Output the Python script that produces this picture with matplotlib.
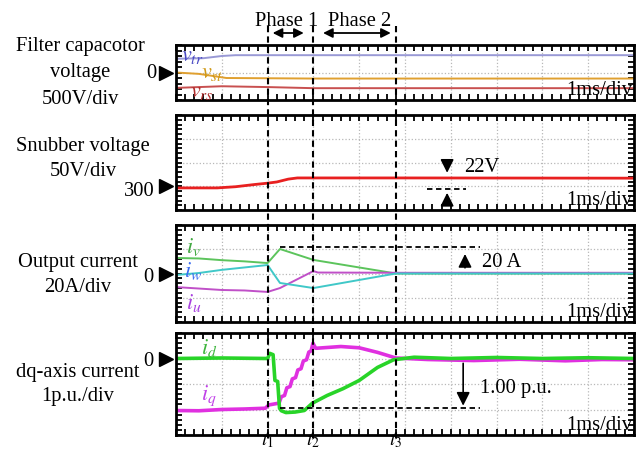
import numpy as np
import matplotlib.pyplot as plt
from matplotlib.ticker import MultipleLocator
from matplotlib.transforms import blended_transform_factory
from matplotlib.lines import Line2D

plt.rcParams["font.family"] = ["Liberation Serif", "DejaVu Serif"]
plt.rcParams["mathtext.fontset"] = "stix"

W, H = 641, 450
FS = 14.8
MFS = 16

# event times (ms)
t_marks = [2.0, 3.0, 4.8]
t_names = ["$t_1$", "$t_2$", "$t_3$"]

# --- panel 1: filter capacitor voltage (div) ---
vtr_t = [0, 0.6, 1.0, 1.3, 10]
vtr_v = [0.5, 0.52, 0.6, 0.63, 0.63]
vst_t = [0, 0.5, 1.1, 3.0, 10]
vst_v = [0.0, -0.05, -0.2, -0.22, -0.22]
vrs_t = [0, 0.5, 1.0, 2.0, 3.0, 10]
vrs_v = [-0.56, -0.53, -0.5, -0.53, -0.57, -0.57]

# --- panel 2: snubber voltage (div, 300 V at 1 div) ---
vsn_t = [0, 0.9, 1.3, 1.7, 2.0, 2.2, 2.45, 2.65, 5.0, 10]
vsn_v = [0.93, 0.93, 0.98, 1.07, 1.13, 1.18, 1.3, 1.35, 1.35, 1.34]

# --- panel 3: output currents (div) ---
iv_t = [0, 0.5, 1.0, 1.5, 2.0, 2.27, 3.0, 4.8, 10]
iv_v = [0.64, 0.62, 0.55, 0.5, 0.43, 1.01, 0.56, 0.0, 0.0]
iw_t = [0, 0.5, 1.0, 1.5, 2.0, 2.27, 3.0, 4.8, 10]
iw_v = [-0.06, 0.02, 0.15, 0.25, 0.35, -0.39, -0.6, 0.0, 0.0]
iu_t = [0, 0.5, 1.0, 1.5, 2.0, 2.27, 3.0, 3.1, 4.8, 10]
iu_v = [-0.56, -0.62, -0.68, -0.7, -0.76, -0.6, 0.1, 0.04, 0.03, 0.03]

# --- panel 4: dq-axis currents (div) ---
id_t = [0, 1.0, 2.0, 2.05, 2.12, 2.16, 2.22, 2.26, 2.3, 2.4, 2.6, 2.8, 2.98,
        3.3, 3.65, 4.0, 4.4, 4.75, 5.2, 6.0, 7.0, 8.0, 9.0, 10]
id_v = [0, 0.02, 0, 0.2, 0.15, -0.86, -0.9, -1.95, -2.05, -2.12, -2.1, -2.04,
        -1.75, -1.45, -1.18, -0.86, -0.35, -0.05, 0.05, 0.0, 0.04, 0.0, 0.03, 0.0]
iq_t = [0, 0.5, 1.0, 1.5, 1.95, 2.03, 2.25, 2.3, 2.37, 2.42, 2.49, 2.54, 2.61,
        2.66, 2.73, 2.78, 2.85, 2.9, 2.95, 2.99, 3.05, 3.6, 4.0, 4.4, 4.8,
        5.5, 6.5, 7.5, 8.5, 9.3, 10]
iq_v = [-2.04, -2.05, -2.0, -1.98, -1.95, -1.82, -1.75, -1.5, -1.45, -1.15,
        -1.1, -0.8, -0.75, -0.45, -0.4, -0.1, -0.05, 0.25, 0.3, 0.6, 0.4,
        0.47, 0.42, 0.24, 0.02, -0.04, -0.08, -0.03, -0.09, -0.04, -0.05]


def fx(x):
    return x / W


def fy(y):
    return 1 - y / H


fig = plt.figure(figsize=(W / 100, H / 100), dpi=100)


def make_ax(ytop, ybot, ylo, yhi):
    ax = fig.add_axes([fx(176), fy(ybot), fx(634) - fx(176), (ybot - ytop) / H])
    ax.set_xlim(0, 10)
    ax.set_ylim(ylo, yhi)
    ax.xaxis.set_major_locator(MultipleLocator(1))
    ax.xaxis.set_minor_locator(MultipleLocator(0.2))
    ax.yaxis.set_major_locator(MultipleLocator(1))
    ax.yaxis.set_minor_locator(MultipleLocator(0.2))
    ax.tick_params(which="both", direction="in", top=True, right=True,
                   labelleft=False, labelbottom=False, length=4.5, width=1.3)
    ax.grid(True, which="major", linestyle=":", color="#b8b8b8", lw=0.9)
    for s in ax.spines.values():
        s.set_linewidth(2)
    ax.text(0.997, 0.0, "1ms/div", transform=ax.transAxes, ha="right",
            va="bottom", fontsize=FS)
    return ax


ax1 = make_ax(45, 100, -1, 1)
ax2 = make_ax(115, 210, 0, 4)
ax3 = make_ax(225, 322, -2, 2)
ax4 = make_ax(333, 435, -3, 1)

# panel 1
ax1.plot(vtr_t, vtr_v, color="#9a9ad6", lw=1.4)
ax1.plot(vst_t, vst_v, color="#e0a030", lw=1.4)
ax1.plot(vrs_t, vrs_v, color="#c85050", lw=1.4)
ax1.text(0.1, 0.6, "$v_{tr}$", color="#4a4ac4", fontsize=MFS, va="center")
ax1.text(0.55, -0.05, "$v_{st}$", color="#d09a18", fontsize=MFS, va="center")
ax1.text(0.3, -0.72, "$v_{rs}$", color="#b02c2c", fontsize=MFS, va="center")

# panel 2
ax2.plot(vsn_t, vsn_v, color="#e82020", lw=2.0)
arr = dict(arrowstyle="-|>", color="k", lw=1.2, mutation_scale=20)
ax2.annotate("", xy=(5.92, 1.45), xytext=(5.92, 2.0), arrowprops=arr)
ax2.annotate("", xy=(5.92, 0.84), xytext=(5.92, 0.22), arrowprops=arr)
ax2.plot([5.48, 6.33], [0.88, 0.88], color="k", lw=1.3, ls=(0, (3, 2)))
ax2.text(6.3, 1.77, "22V", fontsize=FS, va="center")

# panel 3
ax3.plot(iv_t, iv_v, color="#5cc45c", lw=1.4)
ax3.plot(iu_t, iu_v, color="#c050c8", lw=1.4)
ax3.plot(iw_t, iw_v, color="#40c8c8", lw=1.4)
ax3.text(0.22, 1.08, "$i_v$", color="#40a840", fontsize=MFS, va="center")
ax3.text(0.18, 0.12, "$i_w$", color="#3a6cf0", fontsize=MFS, va="center")
ax3.text(0.22, -1.2, "$i_u$", color="#a840e0", fontsize=MFS, va="center")
ax3.plot([2.27, 6.64], [1.09, 1.09], color="k", lw=1.3, ls=(0, (3, 2)))
ax3.annotate("", xy=(6.31, 0.92), xytext=(6.31, 0.12), arrowprops=arr)
ax3.text(6.68, 0.47, "20 A", fontsize=FS, va="center")

# panel 4
ax4.plot(iq_t, iq_v, color="#e030e0", lw=2.6)
ax4.plot(id_t, id_v, color="#28d428", lw=2.6)
ax4.text(0.55, 0.42, "$i_d$", color="#3cb43c", fontsize=MFS, va="center")
ax4.text(0.55, -1.45, "$i_q$", color="#c040e8", fontsize=MFS, va="center")
ax4.plot([2.27, 6.64], [-1.96, -1.96], color="k", lw=1.3, ls=(0, (3, 2)))
ax4.annotate("", xy=(6.27, -1.96), xytext=(6.27, -0.08), arrowprops=arr)
ax4.text(6.64, -1.18, "1.00 p.u.", fontsize=FS, va="center")

# dashed event lines crossing all panels
for t, name in zip(t_marks, t_names):
    tr = blended_transform_factory(ax4.transData, fig.transFigure)
    fig.add_artist(Line2D([t, t], [fy(26), fy(441)], transform=tr, color="k",
                          lw=1.5, ls=(0, (3, 2))))
    fig.text(t, fy(441), name, transform=tr, ha="center", va="center",
             fontsize=14)

# phase arrows
parr = dict(arrowstyle="<|-|>", color="k", lw=1.3, mutation_scale=14)
ax1.annotate("", xy=(2.85, fy(33)), xytext=(2.05, fy(33)),
             xycoords=("data", "figure fraction"),
             textcoords=("data", "figure fraction"),
             arrowprops=parr, annotation_clip=False)
ax1.annotate("", xy=(4.75, fy(33)), xytext=(3.15, fy(33)),
             xycoords=("data", "figure fraction"),
             textcoords=("data", "figure fraction"),
             arrowprops=parr, annotation_clip=False)
fig.text(fx(287), fy(21), "Phase 1", ha="center", va="center", fontsize=FS)
fig.text(fx(360), fy(21), "Phase 2", ha="center", va="center", fontsize=FS)

# left side labels
fig.text(fx(80), fy(47), "Filter capacotor", ha="center", va="center", fontsize=FS)
fig.text(fx(80), fy(73), "voltage", ha="center", va="center", fontsize=FS)
fig.text(fx(80), fy(99), "500V/div", ha="center", va="center", fontsize=FS)
fig.text(fx(83), fy(147), "Snubber voltage", ha="center", va="center", fontsize=FS)
fig.text(fx(83), fy(172), "50V/div", ha="center", va="center", fontsize=FS)
fig.text(fx(78), fy(263), "Output current", ha="center", va="center", fontsize=FS)
fig.text(fx(78), fy(287), "20A/div", ha="center", va="center", fontsize=FS)
fig.text(fx(78), fy(372), "dq-axis current", ha="center", va="center", fontsize=FS)
fig.text(fx(78), fy(396), "1p.u./div", ha="center", va="center", fontsize=FS)

fig.text(fx(151), fy(73), "0", ha="center", va="center", fontsize=FS)
fig.text(fx(155), fy(191), "300", ha="right", va="center", fontsize=FS)
fig.text(fx(148), fy(277), "0", ha="center", va="center", fontsize=FS)
fig.text(fx(148), fy(362), "0", ha="center", va="center", fontsize=FS)

for ax, yv in [(ax1, 0), (ax2, 1), (ax3, 0), (ax4, 0)]:
    tr = blended_transform_factory(fig.transFigure, ax.transData)
    ax.plot([fx(166)], [yv], marker=">", ms=10, color="k", transform=tr,
            clip_on=False)

fig.savefig("out.png", dpi=100)
